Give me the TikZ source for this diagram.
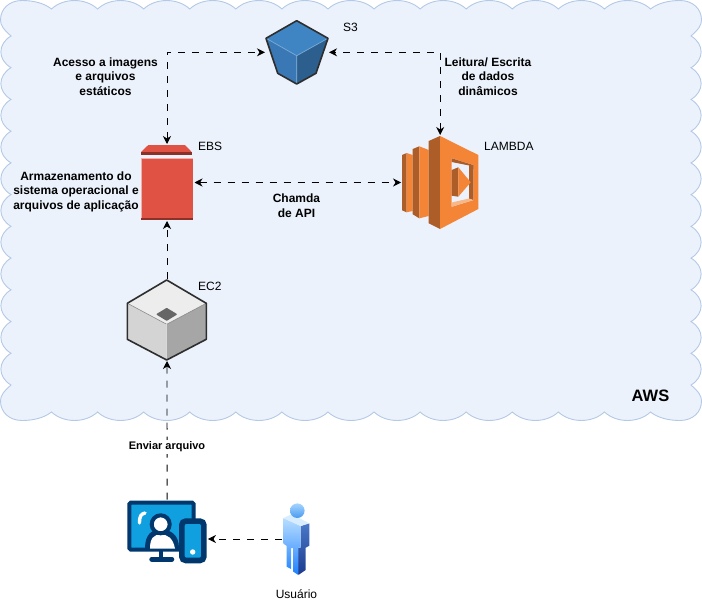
\documentclass[tikz,border=0pt]{standalone}
\usepackage{fontspec}
\setmainfont{Liberation Sans}
\usetikzlibrary{arrows.meta}
\definecolor{cloudfill}{HTML}{EBF2FC}
\definecolor{cloudline}{HTML}{B4C9E6}
\definecolor{s3top}{HTML}{3F85C4}
\definecolor{s3left}{HTML}{3A78B5}
\definecolor{s3right}{HTML}{2C5F8E}
\definecolor{iconline}{HTML}{2E2E2E}
\definecolor{ebsred}{HTML}{E05344}
\definecolor{ebsdark}{HTML}{8C3127}
\definecolor{lamlight}{HTML}{F58536}
\definecolor{lamdark}{HTML}{AD5E28}
\definecolor{devnavy}{HTML}{00386E}
\definecolor{devblue}{HTML}{10A0E0}
\definecolor{usertop}{HTML}{B8DEFF}
\definecolor{userlow}{HTML}{1E80FF}
\definecolor{sidetop}{HTML}{4A78C8}
\definecolor{sidelow}{HTML}{1B3A8E}
\definecolor{headtop}{HTML}{A5D4FF}
\definecolor{headlow}{HTML}{4A9AF0}
\tikzset{
  dashline/.style={draw=black, line width=0.9pt, dash pattern=on 7pt off 7pt},
  arrowtip/.style={-{Stealth[length=8pt,width=8pt,inset=2.5pt]}},
  bothtips/.style={{Stealth[length=8pt,width=8pt,inset=2.5pt]}-{Stealth[length=8pt,width=8pt,inset=2.5pt]}},
  iconbox/.style={inner sep=0pt, outer sep=1pt},
  plainlabel/.style={font=\fontsize{12}{14.5}\selectfont, align=center, inner sep=0pt},
  boldlabel/.style={plainlabel, font=\fontsize{12}{14.5}\selectfont\bfseries},
  cubeline/.style={draw=iconline, line width=1.6pt, line join=round}
}
\begin{document}
\begin{tikzpicture}[x=1pt, y=-1pt]
\useasboundingbox (0,0) rectangle (702,602);
% cloud
\draw[fill=cloudfill, draw=cloudline, line width=0.9pt]
  (11,36) .. controls (3,29) and (0.5,25) .. (0.5,20) .. controls (0.5,9) and (9,0.5) .. (22,0.5) .. controls (33,0.5) and (44,3) .. (51.5,9)
  \foreach \k in {0,...,12} { .. controls ({63.5+46.08*\k},-2.3) and ({85.5+46.08*\k},-2.3) .. ({97.58+46.08*\k},9) }
  .. controls (658,3) and (669,0.5) .. (680,0.5) .. controls (693,0.5) and (701.5,9) .. (701.5,20) .. controls (701.5,25) and (699,29) .. (691,36)
  \foreach \k in {0,...,10} { .. controls (704.5,{44+31.73*\k}) and (704.5,{59.7+31.73*\k}) .. (691,{67.73+31.73*\k}) }
  .. controls (699,392) and (701.5,396) .. (701.5,401) .. controls (701.5,412) and (693,420.5) .. (680,420.5) .. controls (669,420.5) and (658,418) .. (650.5,412)
  \foreach \k in {0,...,12} { .. controls ({638.5-46.08*\k},423.3) and ({616.5-46.08*\k},423.3) .. ({604.42-46.08*\k},412) }
  .. controls (44,418) and (33,420.5) .. (22,420.5) .. controls (9,420.5) and (0.5,412) .. (0.5,401) .. controls (0.5,396) and (3,392) .. (11,385)
  \foreach \k in {0,...,10} { .. controls (-2.5,{377-31.73*\k}) and (-2.5,{361.3-31.73*\k}) .. (11,{353.27-31.73*\k}) }
  -- cycle;
% icon boxes
\node[iconbox, minimum width=62pt, minimum height=63.4pt] (s3box) at (297,52.3) {};
\node[iconbox, minimum width=53pt, minimum height=75pt] (ebsbox) at (167,182.5) {};
\node[iconbox, minimum width=76.3pt, minimum height=93pt] (lambdabox) at (440.2,182.5) {};
\node[iconbox, minimum width=79pt, minimum height=80pt] (ec2box) at (167,320) {};
\node[iconbox, minimum width=79.7pt, minimum height=63.3pt] (devicebox) at (167.1,532.3) {};
\node[iconbox, minimum width=27pt, minimum height=72pt] (userbox) at (296.5,539) {};
% S3
\fill[s3top] (296.7,20.7) -- (328,38.3) -- (296.7,55.7) -- (266,38.3) -- cycle;
\fill[s3left] (266,38.3) -- (296.7,55.7) -- (296.7,84) -- (277.7,73.3) -- cycle;
\fill[s3right] (328,38.3) -- (296.7,55.7) -- (296.7,84) -- (316,73.3) -- cycle;
\draw[s3top!70!white, line width=0.7pt] (266.5,38.5) -- (296.7,55.7) -- (327.5,38.5) (296.7,55.7) -- (296.7,83);
\draw[cubeline] (296.7,20.7) -- (328,38.3) -- (316,73.3) -- (296.7,84) -- (277.7,73.3) -- (266,38.3) -- cycle;
% EBS
\fill[ebsred] (148.3,145) -- (185,145) -- (191.7,152) -- (141,152) -- cycle;
\fill[ebsdark] (141,152) rectangle (191.7,155);
\fill[ebsred] (140.5,158.3) rectangle (192.7,217.5);
\fill[ebsdark] (140.5,217.5) rectangle (192.7,220);
\fill[ebsred!45!white] (140.5,158.3) rectangle (192.7,159.3);
\fill[ebsred!45!white] (140.5,158.3) rectangle (141.3,217.5);
% Lambda
\fill[lamdark] (402,155) -- (406.7,153) -- (406.7,212.3) -- (402,210.3) -- cycle;
\fill[lamlight] (406.7,153) -- (412.7,155) -- (412.7,211) -- (406.7,212.3) -- cycle;
\fill[lamdark] (412.7,149) -- (419.3,146.3) -- (419.3,218.3) -- (412.7,214.3) -- cycle;
\fill[lamlight] (419.3,146.3) -- (428.7,150) -- (428.7,216) -- (419.3,218.3) -- cycle;
\fill[lamdark] (428.7,141) -- (440,136) -- (440,229) -- (428.7,223.3) -- cycle;
\fill[lamlight] (440,136) -- (478.3,155) -- (478.3,209) -- (440,229) -- cycle;
\fill[cloudfill] (451.7,158.3) -- (473.3,165) -- (473.3,200) -- (451.7,206.7) -- cycle;
\fill[lamdark] (451.7,158.3) -- (473.3,165) -- (473.3,169) -- (469,165.5) -- (451.7,162) -- cycle;
\fill[lamdark] (469,165.5) -- (473.3,165) -- (473.3,200) -- (469,199) -- cycle;
\fill[lamlight!60!white] (451.7,206.7) -- (473.3,200) -- (469,198.5) -- (451.7,202.5) -- cycle;
\fill[lamdark] (451.7,170) -- (458.3,167.3) -- (458.3,196.7) -- (451.7,195.7) -- cycle;
\fill[lamlight] (458.3,167.3) -- (470.7,182.3) -- (458.3,196.7) -- cycle;
% EC2
\fill[black!7] (166.7,280) -- (206.3,303.3) -- (166.7,324.3) -- (127.3,303.3) -- cycle;
\fill[black!17] (127.3,303.3) -- (166.7,324.3) -- (166.7,360) -- (127.3,339.3) -- cycle;
\fill[black!35] (206.3,303.3) -- (166.7,324.3) -- (166.7,360) -- (206.3,339.3) -- cycle;
\draw[black!45, line width=0.6pt] (127.8,303.5) -- (166.7,324.3) -- (205.8,303.5);
\draw[white!85!black, line width=0.6pt] (166.7,324.3) -- (166.7,359);
\draw[cubeline] (166.7,280) -- (206.3,303.3) -- (206.3,339.3) -- (166.7,360) -- (127.3,339.3) -- (127.3,303.3) -- cycle;
\fill[black!60, draw=black!60, line width=1.5pt, line join=round] (166.7,308.7) -- (176,314.3) -- (166.7,320) -- (157.4,314.3) -- cycle;
% devices
\draw[devnavy, fill=devblue, line width=4pt, rounded corners=1.5pt] (129.3,502.7) rectangle (193.7,549.7);
\draw[devnavy, line width=4pt] (161,551) -- (161,558);
\draw[devnavy, line width=5pt, line cap=round] (151.8,559.2) -- (171.8,559.2);
\draw[white, line width=3.4pt, line cap=round] (139.5,523) .. controls (139.5,516) and (141,514) .. (145,513);
\fill[devnavy] (145,548.5) .. controls (145,534) and (152,529.5) .. (160.7,529.5) .. controls (170,529.5) and (179,534) .. (179,548.5) -- cycle;
\fill[white] (150,548.5) .. controls (150,538) and (154,534.5) .. (160.7,534.5) .. controls (167.5,534.5) and (173,538) .. (175,548.5) -- cycle;
\draw[devnavy, fill=white, line width=4pt] (160.7,524.3) circle (9);
\draw[devnavy, fill=devblue, line width=5.6pt, rounded corners=4pt] (181.8,521.1) rectangle (203.9,560.5);
\fill[white] (192.7,552) circle (2.7);
% user
\shade[top color=sidetop, bottom color=sidelow] (300.7,526) -- (309.3,523.3) -- (309.3,545.7) -- (305.7,547.7) -- (305.7,570) -- (298.3,575) -- (298.3,547.7) -- (300.7,547.7) -- cycle;
\shade[top color=usertop, bottom color=userlow] (283.3,518) -- (300.7,526) -- (300.7,547.7) -- (298.3,547.7) -- (298.3,575) -- (293,571.5) -- (293,548) -- (291,548) -- (291,569) -- (286.7,566.7) -- (286.7,546) -- (283.3,543.5) -- cycle;
\fill[usertop!55!white] (283.3,518) -- (291.7,514.3) -- (309.3,523.3) -- (300.7,526) -- cycle;
\shade[top color=headtop, bottom color=headlow] (297.3,510.7) circle (7.3);
% connectors
\draw[dashline, bothtips] (ebsbox.north) |- (s3box.west);
\draw[dashline, bothtips] (lambdabox.north) |- (s3box.east);
\draw[dashline, bothtips] (ebsbox.east) -- (lambdabox.west);
\draw[dashline, arrowtip] (ec2box.north) -- (ebsbox.south);
\draw[dashline, arrowtip] (devicebox.north) -- (ec2box.south);
\draw[dashline, arrowtip] (userbox.west) -- (devicebox.east |- userbox.west);
% labels
\node[plainlabel, anchor=west] (s3label) at (343,27) {S3};
\node[plainlabel, anchor=west] (ebslabel) at (198,146) {EBS};
\node[plainlabel, anchor=west] (lambdalabel) at (484,146) {LAMBDA};
\node[plainlabel, anchor=west] (ec2label) at (198,286) {EC2};
\node[plainlabel] (userlabel) at (296.5,594.5) {Usuário};
\node[boldlabel] (staticlabel) at (105.5,76.5) {Acesso a imagens\\e arquivos\\estáticos};
\node[boldlabel] (dynamiclabel) at (488,76.5) {Leitura/ Escrita\\de dados\\dinâmicos};
\node[boldlabel] (osdisklabel) at (76,191.5) {Armazenamento do\\sistema operacional e\\arquivos de aplicação};
\node[boldlabel] (apilabel) at (296.5,205.5) {Chamda\\de API};
\node[boldlabel, font=\fontsize{11}{13}\selectfont\bfseries, fill=white, inner ysep=1.5pt, inner xsep=1pt] (sendlabel) at (167,447) {Enviar arquivo};
\node[boldlabel, font=\fontsize{16.5}{18}\selectfont\bfseries] (awslabel) at (650.5,396) {AWS};
\end{tikzpicture}
\end{document}
